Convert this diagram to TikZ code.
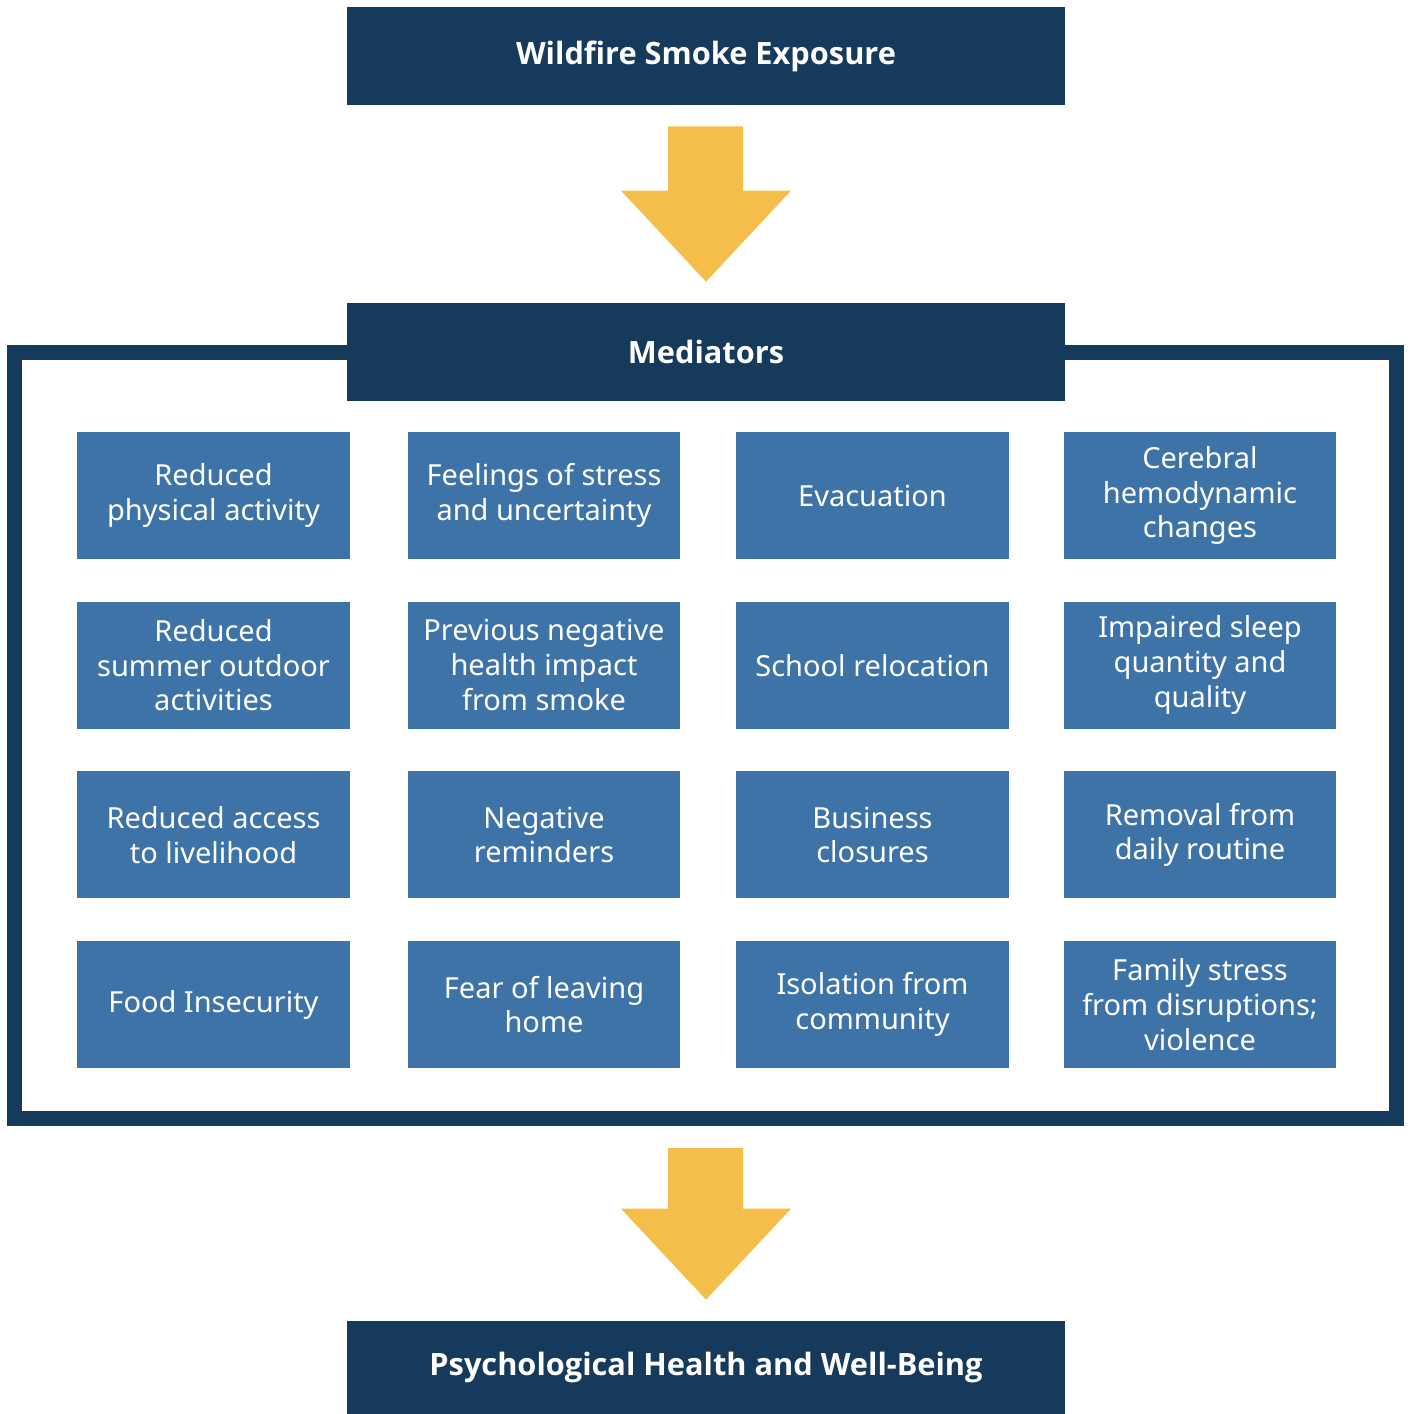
\documentclass[tikz,border=0pt]{standalone}
\usepackage{fontspec}
\setmainfont{Noto Sans}
\newfontfamily\titlefont{Open Sans}
\usetikzlibrary{positioning,calc}

\definecolor{navy}{HTML}{163A5B}
\definecolor{midblue}{HTML}{3E73A8}
\definecolor{gold}{HTML}{F4BE4B}

\tikzset{
    titlebox/.style={fill=navy, text=white, minimum width=14.36cm, minimum height=1.96cm, inner sep=0pt,
        font=\titlefont\bfseries\fontsize{17.5}{21}\selectfont},
    medbox/.style={fill=midblue, text=white, minimum width=5.46cm, minimum height=2.54cm, inner sep=0pt,
        align=center, font=\fontsize{16.5}{19.8}\selectfont},
}

% block arrow: from a point to a point, fixed head height
\newcommand{\goldarrow}[2]{
    \fill[gold] ($(#1)+(-38,21)$) -- ($(#1)+(37,21)$) -- ($(#2)+(37,-112)$) -- ($(#2)+(85,-112)$)
        -- ($(#2)+(0,-21)$) -- ($(#2)+(-85,-112)$) -- ($(#2)+(-38,-112)$) -- cycle;
}

\begin{document}
\begin{tikzpicture}[x=0.02cm,y=-0.02cm]
    \useasboundingbox (0,0) rectangle (1411,1414);

    \node[titlebox] (smoke) at (706,56) {Wildfire Smoke Exposure};

    % frame round the mediators
    \draw[navy, line width=0.3cm] (14.5,352) rectangle (1396.5,1118.5);
    \coordinate (framebot) at (706,1127);

    \node[titlebox] (mediators) at (706,352) {Mediators};

    \foreach \lbl [count=\i from 0] in {
            {Reduced\\physical activity}, {Feelings of stress\\and uncertainty}, {Evacuation}, {Cerebral\\hemodynamic\\changes},
            {Reduced\\summer outdoor\\activities}, {Previous negative\\health impact\\from smoke}, {School relocation}, {Impaired sleep\\quantity and\\quality},
            {Reduced access\\to livelihood}, {Negative\\reminders}, {Business\\closures}, {Removal from\\daily routine},
            {Food Insecurity}, {Fear of leaving\\home}, {Isolation from\\community}, {Family stress\\from disruptions;\\violence}}
    {
        \pgfmathsetmacro\cx{{213.5,544,872.5,1200}[mod(\i,4)]}
        \pgfmathsetmacro\cy{495.5+169.7*floor(\i/4)}
        \node[medbox] (m\i) at (\cx,\cy) {\lbl};
    }

    \node[titlebox, minimum height=1.86cm] (wellbeing) at (706,1367.5) {Psychological Health and Well-Being};

    \goldarrow{smoke.south}{mediators.north}
    \goldarrow{framebot}{wellbeing.north}
\end{tikzpicture}
\end{document}
